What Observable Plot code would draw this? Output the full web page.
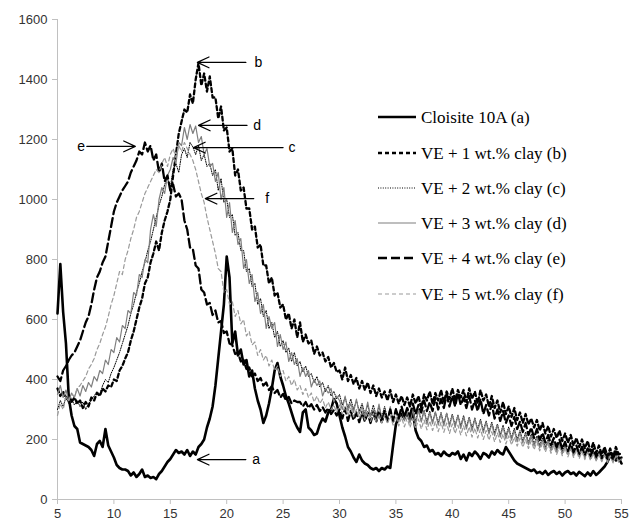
<!DOCTYPE html>
<html><head><meta charset="utf-8">
<script src="https://cdn.jsdelivr.net/npm/d3@7"></script>
<script src="https://cdn.jsdelivr.net/npm/@observablehq/plot@0.6"></script>
<style>
body{margin:0;background:#fff;}
#wrap{position:relative;width:630px;height:522px;}
#wrap svg.leg{position:absolute;left:0;top:0;pointer-events:none;}
</style></head><body><div id="wrap"></div>
<script>
// 2θ sample grid, 0.25° steps from 5 to 55
const twoTheta = d3.range(201).map(i => 5 + i * 0.25);

const cloisite = [
620,785,625,520, 340,280,245,235, 190,185,180,175, 165,145,185,195, 175,235,180,160,
140,115,105,100, 100,95,80,90, 75,85,100,75, 80,72,75,68, 85,95,110,125,
135,150,165,155, 160,150,165,145, 160,150,175,185, 200,240,270,310, 380,470,560,650,
810,740,520,560, 480,500,450,465, 410,430,370,330, 300,255,280,320, 370,430,455,410,
380,345,320,290, 260,240,225,290, 300,240,230,215, 220,250,270,260, 290,300,335,320,
280,240,210,175, 160,140,125,150, 130,120,115,105, 100,105,95,105, 100,110,105,180,
250,275,285,270, 290,265,290,230, 205,195,175,180, 160,165,150,155, 145,160,150,145,
155,150,160,135, 150,130,155,145, 160,150,135,155, 150,140,160,150, 165,155,150,175,
160,145,130,120, 115,110,105,100, 95,100,88,92, 85,95,82,90, 95,85,92,80,
90,95,85,90, 80,92,85,78, 90,80,95,82, 90,100,110,125, 145,150,130,140,
120];

const ve1 = [
370,345,360,335, 350,325,340,320, 330,305,325,310, 340,330,355,345, 370,360,380,375,
400,395,430,445, 470,490,530,560, 600,640,670,720, 740,790,820,860, 830,890,930,960,
1000,1080,1150,1220, 1260,1300,1290,1350, 1320,1400,1455,1380, 1420,1360,1410,1340, 1340,1270,1310,1230,
1240,1160,1170,1080, 1100,1030,1040,970, 970,900,910,840, 850,780,780,720, 740,680,690,640,
650,600,620,570, 600,540,590,525, 550,520,530,485, 510,480,490,460, 475,440,455,425,
430,400,440,395, 415,385,405,370, 395,365,390,355, 380,345,370,340, 360,330,365,325,
350,320,345,315, 340,310,350,320, 345,305,350,330, 360,320,355,330, 365,325,360,335,
370,330,365,340, 365,325,370,335, 360,320,365,330, 350,310,345,305, 330,290,325,285,
310,275,305,265, 290,255,285,250, 270,240,265,230, 255,220,245,210, 235,205,230,195,
220,190,215,180, 205,175,200,170, 195,160,190,155, 180,150,175,145, 170,140,175,150,
155];

const ve2 = [
300,330,310,340, 320,335,315,330, 310,325,300,320, 330,345,360,350, 380,400,390,420,
440,465,490,520, 550,580,620,650, 690,720,760,790, 830,860,900,940, 980,1010,1050,1070,
1040,1100,1120,1090, 1150,1170,1140,1190, 1175,1150,1180,1130, 1150,1110,1120,1080, 1100,1030,1070,990,
1000,940,950,880, 890,830,830,760, 770,710,720,650, 670,610,630,570, 590,540,560,510,
530,490,505,460, 490,445,460,425, 445,410,420,390, 410,375,390,360, 380,345,360,335,
350,315,340,305, 335,300,330,295, 320,285,315,280, 315,280,310,275, 310,270,305,265,
305,270,300,265, 300,265,305,260, 300,262,298,258, 295,258,292,255, 290,252,288,250,
285,248,282,245, 280,242,275,238, 272,235,268,230, 262,225,258,222, 252,215,248,212,
242,205,238,200, 230,195,225,190, 218,185,212,180, 205,175,200,170, 195,165,190,160,
185,155,180,150, 172,148,170,142, 165,140,162,135, 158,132,155,130, 150,128,148,125,
135];

const ve3 = [
350,380,340,365, 330,355,340,370, 345,380,360,390, 375,410,395,430, 420,465,450,500,
490,540,525,580, 570,630,620,690, 680,750,740,800, 790,900,950,910, 1000,1040,1020,1080,
1100,1140,1120,1190, 1180,1240,1200,1250, 1220,1245,1190,1210, 1150,1170,1110,1120, 1060,1090,1000,1040,
940,990,890,930, 850,870,770,800, 720,750,660,690, 620,650,570,610, 570,590,510,550,
500,525,460,490, 450,470,410,440, 410,430,375,400, 380,395,345,370, 355,370,325,345,
330,300,345,295, 320,290,335,285, 310,280,325,275, 300,270,318,268, 295,262,310,260,
300,258,305,262, 295,255,300,250, 298,258,295,250, 290,252,292,248, 285,245,288,242,
282,240,280,236, 275,235,272,228, 268,228,262,222, 258,218,252,212, 248,208,242,202,
235,198,230,192, 222,188,218,182, 210,178,205,172, 198,168,194,162, 188,158,184,152,
178,150,174,145, 168,142,165,138, 160,135,158,130, 152,128,150,125, 148,125,150,128,
135];

const ve4 = [
410,395,430,445, 465,480,490,510, 530,560,590,610, 650,700,740,760, 790,810,860,910,
960,990,1010,1030, 1045,1060,1090,1110, 1130,1160,1150,1190, 1160,1180,1130,1150, 1090,1120,1060,1080,
1030,1050,1010,1020, 1000,930,900,840, 835,780,770,700, 690,650,655,615, 630,590,595,555,
560,520,515,485, 490,460,465,435, 440,410,420,395, 405,380,390,365, 378,355,365,340,
352,330,342,320, 330,325,325,310, 325,305,318,300, 315,295,308,290, 305,285,298,280,
300,270,305,262, 295,265,290,258, 292,260,290,255, 290,258,295,255, 295,262,300,260,
300,270,310,275, 305,280,320,285, 315,290,330,295, 325,295,340,300, 335,305,350,310,
345,310,355,315, 340,305,345,300, 330,295,335,285, 315,280,320,270, 300,262,295,255,
280,245,275,235, 260,225,255,215, 240,205,235,198, 222,190,215,182, 205,175,200,168,
192,162,188,158, 180,152,176,148, 170,145,168,140, 162,138,160,135, 155,132,160,138,
140];

const ve5 = [
280,320,300,340, 330,350,345,370, 380,395,410,435, 450,470,500,520, 550,575,610,650,
680,720,760,750, 800,830,870,900, 940,960,990,1020, 1040,1060,1080,1100, 1090,1120,1140,1110,
1150,1170,1140,1180, 1160,1190,1170,1150, 1130,1100,1060,1020, 990,940,900,860, 820,770,760,690,
700,650,660,610, 630,585,600,545, 560,515,525,480, 500,465,480,445, 465,430,445,410,
430,395,410,380, 400,365,380,350, 370,340,355,325, 345,320,335,305, 325,300,315,290,
315,285,310,280, 305,275,300,270, 295,265,292,260, 288,258,285,255, 282,252,280,248,
278,245,275,242, 272,240,270,236, 268,235,265,232, 262,230,260,226, 258,224,255,220,
252,220,248,215, 246,212,242,208, 238,205,235,200, 230,198,226,192, 222,190,218,185,
212,182,208,178, 204,174,200,170, 196,166,192,162, 188,158,184,154, 180,150,176,146,
172,142,168,140, 165,136,160,133, 158,130,154,128, 152,126,148,124, 146,122,144,124,
130];

const seriesNames = [
  "Cloisite 10A (a)",
  "VE + 1 wt.% clay (b)",
  "VE + 2 wt.% clay (c)",
  "VE + 3 wt.% clay (d)",
  "VE + 4 wt.% clay (e)",
  "VE + 5 wt.% clay (f)"
];
const seriesValues = [cloisite, ve1, ve2, ve3, ve4, ve5];
const xTicks = [5, 10, 15, 20, 25, 30, 35, 40, 45, 50, 55];
const yTicks = [0, 200, 400, 600, 800, 1000, 1200, 1400, 1600];

// peak annotations: label, arrow tail (2θ), arrow tip (2θ), intensity, label position (2θ)
const arrowLabels = ["a", "b", "c", "d", "e", "f"];
const arrowTail   = [21.7, 21.7, 25.0, 21.8, 7.6, 22.4];
const arrowTip    = [17.4, 17.4, 17.06, 17.5, 11.9, 18.1];
const arrowY      = [133, 1457, 1173, 1247, 1177, 1003];
const labelX      = [22.6, 22.8, 25.8, 22.7, 7.1, 23.6];

// styles
const strokes = ["#000", "#000", "#000", "#7f7f7f", "#000", "#9a9a9a"];
const widths  = [2.6, 2.3, 1, 1.2, 2.3, 1.2];
const dashes  = [null, "4,3", "1,1.4", null, "9,4", "4,3"];

const rows = [];
seriesValues.forEach((vals, s) => vals.forEach((v, i) => rows.push({x: twoTheta[i], y: v, s})));
const ann = arrowLabels.map((l, i) => ({label: l, tail: arrowTail[i], tip: arrowTip[i], y: arrowY[i], lx: labelX[i]}));

const fmt = d => String(d);
const marks = [
  Plot.ruleY([0], {stroke: "#c0c0c0"}),
  Plot.ruleX([5], {stroke: "#c0c0c0"}),
  Plot.axisX({ticks: xTicks, tickFormat: fmt, tickSize: 5, tickPadding: 4, stroke: "#c0c0c0", fill: "#333", label: null, fontSize: 13}),
  Plot.axisY({ticks: yTicks, tickFormat: fmt, tickSize: 5, tickPadding: 5, stroke: "#c0c0c0", fill: "#333", label: null, fontSize: 13}),
];
seriesValues.forEach((_, k) => {
  marks.push(Plot.line(rows.filter(r => r.s === k), {
    x: "x", y: "y", stroke: strokes[k], strokeWidth: widths[k],
    strokeDasharray: dashes[k] || undefined, strokeLinejoin: "round"
  }));
});
marks.push(Plot.arrow(ann, {x1: "tail", x2: "tip", y1: "y", y2: "y", stroke: "#000", strokeWidth: 1.2, headLength: 16, headAngle: 50}));
marks.push(Plot.text(ann, {x: "lx", y: "y", text: "label", fill: "#000", fontSize: 14, textAnchor: "middle"}));

const chart = Plot.plot({
  width: 630, height: 522,
  marginLeft: 57, marginRight: 9, marginTop: 19, marginBottom: 23,
  style: {fontFamily: "Liberation Sans, Arial, sans-serif", fontSize: "13px", background: "#fff"},
  x: {domain: [5, 55]},
  y: {domain: [0, 1600]},
  marks
});
const wrap = document.getElementById("wrap");
wrap.appendChild(chart);

// legend (inside the plot area, right side)
const leg = d3.select(wrap).append("svg").attr("class", "leg").attr("width", 630).attr("height", 522);
const legY = [117, 153, 188, 223, 258, 294];
seriesNames.forEach((name, k) => {
  const g = leg.append("g").attr("transform", `translate(0,${legY[k]})`);
  g.append("line").attr("x1", 378).attr("x2", 416).attr("y1", 0).attr("y2", 0)
    .attr("stroke", strokes[k]).attr("stroke-width", widths[k])
    .attr("stroke-dasharray", dashes[k]);
  g.append("text").attr("x", 421).attr("y", 0).attr("dy", "0.35em")
    .attr("font-family", "Liberation Serif, Times New Roman, serif").attr("font-size", 17)
    .attr("fill", "#000").text(name);
});
</script></body></html>
